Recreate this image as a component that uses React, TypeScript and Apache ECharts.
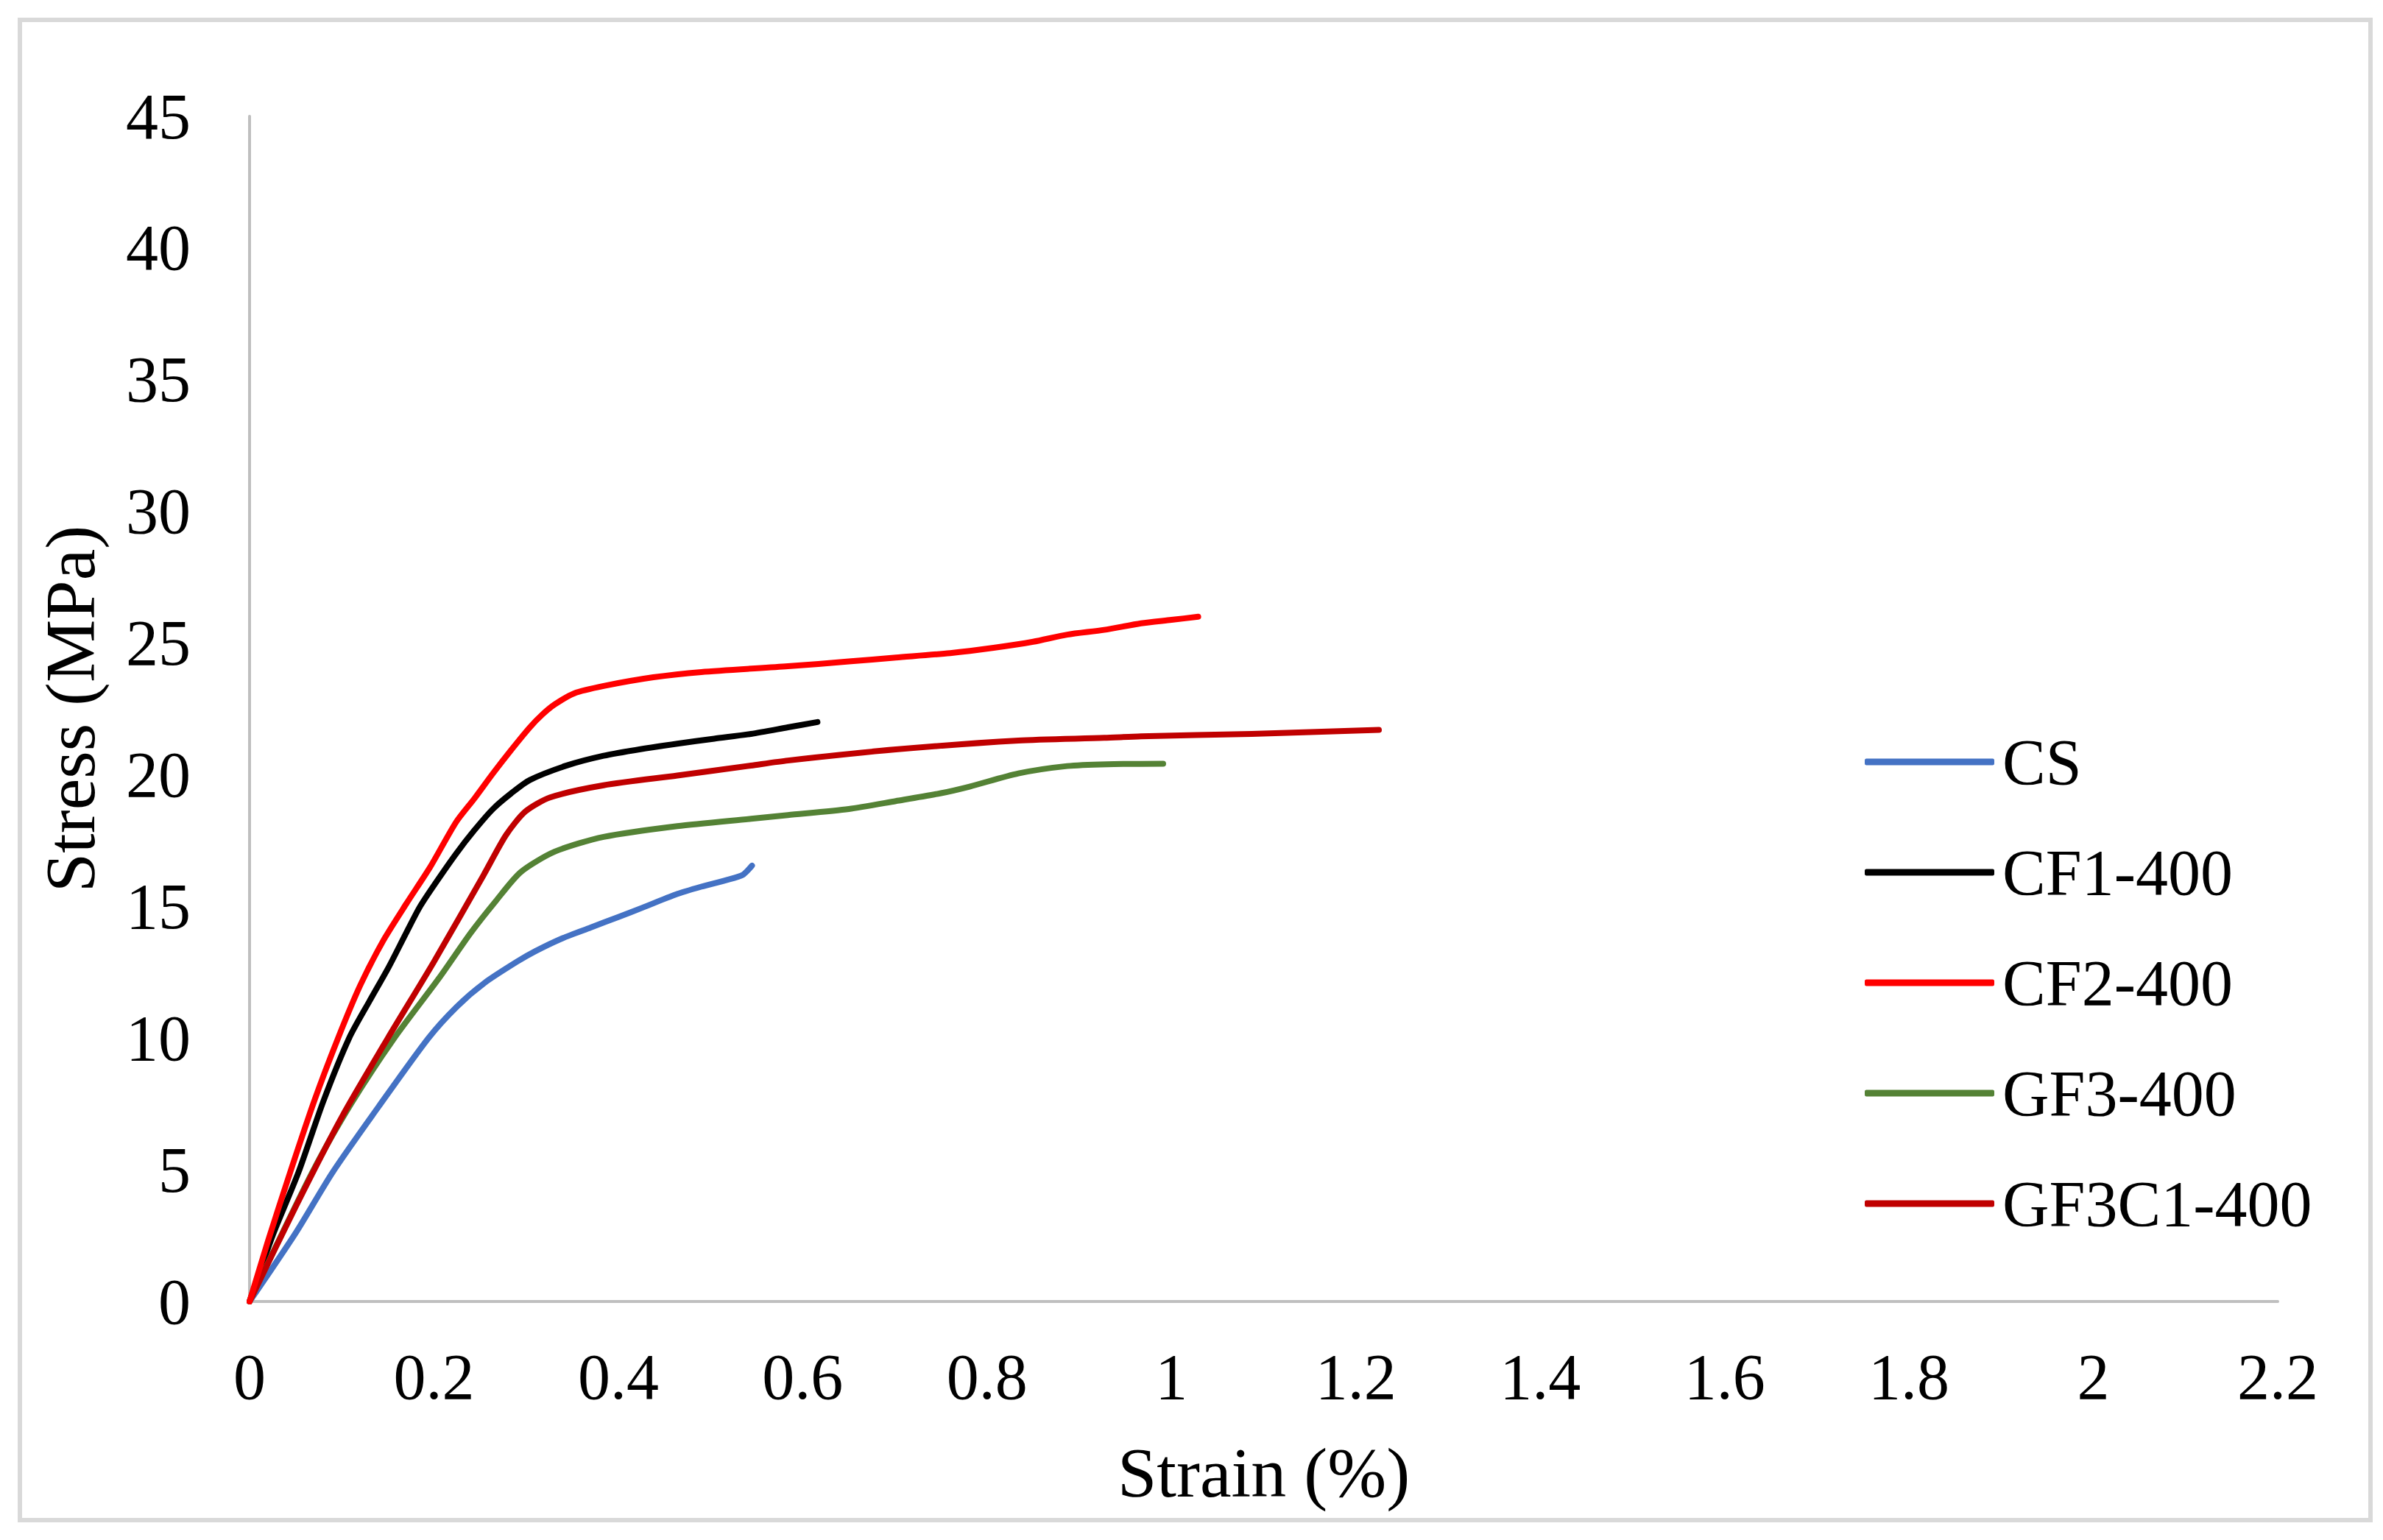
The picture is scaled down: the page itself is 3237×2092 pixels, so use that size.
import { useEffect, useRef } from 'react';
import * as echarts from 'echarts';

// strain (%) / stress (MPa) pairs
const seriesNames = ['CS', 'CF1-400', 'CF2-400', 'GF3-400', 'GF3C1-400'];
const seriesColors = ['#4472C4', '#000000', '#FF0000', '#548235', '#C00000'];

const csData = [
  [0, 0], [0.05, 2.6], [0.09, 4.9], [0.14, 7.4], [0.194, 10], [0.225, 11.2],
  [0.255, 12.1], [0.29, 12.9], [0.31, 13.3], [0.34, 13.8], [0.37, 14.2],
  [0.4, 14.6], [0.426, 14.95], [0.462, 15.45], [0.49, 15.75], [0.517, 16.0],
  [0.535, 16.2], [0.545, 16.55],
];

const cf1Data = [
  [0, 0], [0.025, 2.5], [0.053, 4.9], [0.08, 7.6], [0.108, 10], [0.13, 11.4],
  [0.151, 12.7], [0.17, 14.0], [0.185, 15.0], [0.2, 15.8], [0.224, 17.0],
  [0.244, 17.9], [0.264, 18.7], [0.284, 19.3], [0.304, 19.8], [0.344, 20.35],
  [0.384, 20.72], [0.424, 20.97], [0.464, 21.18], [0.504, 21.37], [0.544, 21.55],
  [0.584, 21.8], [0.616, 22.0],
];

const cf2Data = [
  [0, 0], [0.02, 2.3], [0.044, 4.9], [0.07, 7.6], [0.096, 10], [0.12, 12.0],
  [0.145, 13.7], [0.17, 15.1], [0.196, 16.5], [0.224, 18.2], [0.244, 19.1],
  [0.264, 20.05], [0.284, 20.95], [0.304, 21.8], [0.318, 22.3], [0.331, 22.67],
  [0.352, 23.09], [0.384, 23.37], [0.438, 23.7], [0.49, 23.9], [0.584, 24.12],
  [0.65, 24.3], [0.701, 24.45], [0.76, 24.62], [0.807, 24.82], [0.85, 25.05],
  [0.887, 25.32], [0.927, 25.5], [0.967, 25.75], [1.0, 25.88], [1.029, 26.0],
];

const gf3Data = [
  [0, 0], [0.068, 4.9], [0.11, 7.5], [0.157, 10], [0.206, 12.3], [0.24, 14.0],
  [0.267, 15.2], [0.294, 16.3], [0.331, 17.08], [0.384, 17.64], [0.464, 18.05],
  [0.544, 18.33], [0.584, 18.47], [0.65, 18.7], [0.701, 19.0], [0.75, 19.3],
  [0.781, 19.55], [0.834, 20.05], [0.887, 20.33], [0.93, 20.4], [0.991, 20.42],
];

const gf3c1Data = [
  [0, 0], [0.05, 3.6], [0.1, 7.0], [0.15, 10.0], [0.2, 12.9], [0.254, 16.2],
  [0.278, 17.7], [0.299, 18.6], [0.326, 19.14], [0.384, 19.6], [0.464, 19.97],
  [0.544, 20.35], [0.584, 20.54], [0.701, 20.96], [0.834, 21.3], [0.927, 21.4],
  [0.967, 21.46], [1.087, 21.55], [1.225, 21.7],
];

const allData = [csData, cf1Data, cf2Data, gf3Data, gf3c1Data];

const FONT = "'Liberation Serif', 'Times New Roman', serif";

export default function App() {
  const chartRef = useRef<HTMLDivElement>(null);

  useEffect(() => {
    document.body.style.margin = '0';
    document.body.style.overflow = 'hidden';
    if (!chartRef.current) return;

    const chart = echarts.init(chartRef.current, null, { renderer: 'svg' });

    const option: echarts.EChartsOption = {
      animation: false,
      backgroundColor: '#ffffff',
      textStyle: { fontFamily: FONT },
      graphic: [
        {
          type: 'rect',
          shape: { x: 27, y: 27, width: 3193, height: 2038 },
          style: { fill: 'none', stroke: '#d9d9d9', lineWidth: 6 },
          silent: true,
        },
      ],
      grid: {
        left: 339,
        right: 143,
        top: 158,
        bottom: 324,
        containLabel: false,
      },
      legend: {
        orient: 'vertical',
        left: 2528,
        top: 986,
        icon: 'roundRect',
        itemWidth: 176,
        itemHeight: 9,
        itemGap: 62,
        textStyle: {
          fontFamily: FONT,
          fontSize: 88,
          lineHeight: 88,
          color: '#000000',
          padding: [0, 0, 0, 6],
        },
        data: seriesNames,
      },
      xAxis: {
        type: 'value',
        min: 0,
        max: 2.2,
        interval: 0.2,
        name: 'Strain (%)',
        nameLocation: 'middle',
        nameGap: 184,
        nameTextStyle: { fontFamily: FONT, fontSize: 96, color: '#000000' },
        axisLine: { show: true, lineStyle: { color: '#bfbfbf', width: 4 } },
        axisTick: { show: false },
        splitLine: { show: false },
        axisLabel: {
          fontFamily: FONT,
          fontSize: 88,
          color: '#000000',
          margin: 58,
          formatter: (v: number) => String(+v.toFixed(1)),
        },
      },
      yAxis: {
        type: 'value',
        min: 0,
        max: 45,
        interval: 5,
        name: 'Stress (MPa)',
        nameLocation: 'middle',
        nameGap: 196,
        nameTextStyle: { fontFamily: FONT, fontSize: 96, color: '#000000' },
        axisLine: { show: true, lineStyle: { color: '#bfbfbf', width: 4 } },
        axisTick: { show: false },
        splitLine: { show: false },
        axisLabel: {
          fontFamily: FONT,
          fontSize: 88,
          color: '#000000',
          margin: 80,
        },
      },
      series: seriesNames.map((name, i) => ({
        name,
        type: 'line' as const,
        data: allData[i],
        smooth: 0.25,
        symbol: 'none',
        z: name === 'CF2-400' ? 5 : 2,
        lineStyle: { color: seriesColors[i], width: 8, cap: 'round' as const, join: 'round' as const },
        itemStyle: { color: seriesColors[i] },
        emphasis: { disabled: true },
      })),
    };

    chart.setOption(option);

    const handleResize = () => chart.resize();
    window.addEventListener('resize', handleResize);

    return () => {
      window.removeEventListener('resize', handleResize);
      chart.dispose();
    };
  }, []);

  return <div ref={chartRef} style={{ width: '100vw', height: '100vh' }} />;
}
